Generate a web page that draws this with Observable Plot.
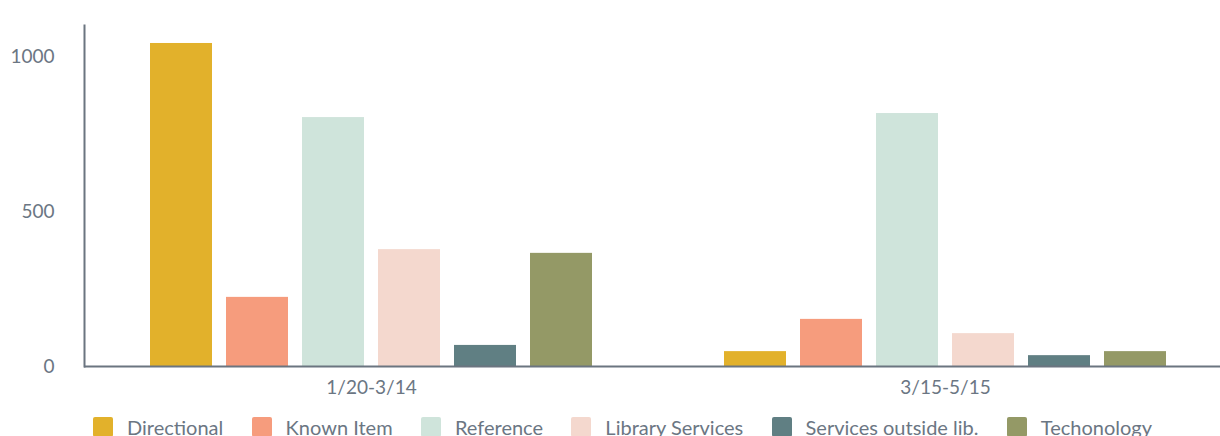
<!DOCTYPE html>
<html>
<head>
<meta charset="utf-8">
<script src="https://cdn.jsdelivr.net/npm/d3@7"></script>
<script src="https://cdn.jsdelivr.net/npm/@observablehq/plot@0.6"></script>
<style>
  html, body { margin: 0; padding: 0; background: #fff; }
  #chart { width: 1220px; overflow: hidden; }
  .legend { display: flex; align-items: center; justify-content: space-between; box-sizing: border-box;
            width: 1220px; padding-left: 93px; padding-right: 68px; margin-top: 4px; line-height: 22px;
            font-family: Lato, sans-serif; font-size: 20px; color: #6b7683; white-space: nowrap; }
  .legend .item { display: flex; align-items: center; }
  .legend .sw { width: 20px; height: 20px; border-radius: 2px; margin-right: 14px; flex: none; }
</style>
</head>
<body>
<div id="chart"></div>
<script>
const groups = ["1/20-3/14", "3/15-5/15"];
const series = ["Directional", "Known Item", "Reference", "Library Services", "Services outside lib.", "Techonology"];
const colors = ["#e2b12b", "#f69c7d", "#cfe4db", "#f4d8ce", "#607f83", "#949966"];
const valuesGroup1 = [1042, 223, 803, 377, 68, 365];
const valuesGroup2 = [48, 152, 816, 106, 35, 48];
const yTicks = [0, 500, 1000];

const table = [valuesGroup1, valuesGroup2].flatMap((vals, gi) =>
  vals.map((v, si) => ({ group: groups[gi], series: series[si], value: v })));

const axisColor = "#6b7580";

const plot = Plot.plot({
  width: 1220,
  height: 412,
  marginLeft: 84,
  marginRight: -12,
  marginTop: 25,
  marginBottom: 46,
  style: { fontFamily: "Lato, sans-serif", fontSize: "19px", color: "#6b7683", background: "#fff", overflow: "hidden" },
  fx: { domain: groups, padding: 0, label: null, tickSize: 0, tickPadding: 14, axis: "bottom" },
  x: { domain: series, paddingInner: 14 / 76, paddingOuter: 0.8684, axis: null },
  y: { domain: [0, 1100], ticks: yTicks, tickSize: 0, tickPadding: 30, label: null, line: true, tickFormat: d3.format("d") },
  color: { domain: series, range: colors },
  marks: [
    Plot.barY(table, { fx: "group", x: "series", y: "value", fill: "series" }),
    Plot.ruleY([0], { stroke: axisColor, strokeWidth: 2 })
  ]
});
document.getElementById("chart").appendChild(plot);

// thicken the y axis line
d3.select(plot).selectAll("g[aria-label='frame'] line, g[aria-label='frame'] rect, g[aria-label='y-axis line'] line")
  .attr("stroke", axisColor).attr("stroke-width", 2);

const legend = document.createElement("div");
legend.className = "legend";
series.forEach((s, i) => {
  const item = document.createElement("div");
  item.className = "item";
  const sw = document.createElement("span");
  sw.className = "sw";
  sw.style.background = colors[i];
  const t = document.createElement("span");
  t.textContent = s;
  item.appendChild(sw);
  item.appendChild(t);
  legend.appendChild(item);
});
document.getElementById("chart").appendChild(legend);
</script>
</body>
</html>
